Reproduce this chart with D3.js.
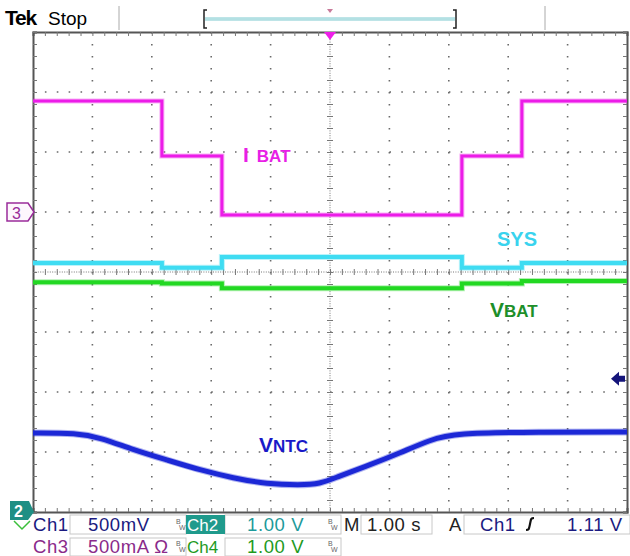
<!DOCTYPE html>
<html>
<head>
<meta charset="utf-8">
<script src="https://cdn.jsdelivr.net/npm/d3@7"></script>
<style>
body { margin: 0; background: #fff; }
svg { display: block; font-family: "Liberation Sans", Arial, sans-serif; }
</style>
</head>
<body>
<script>
// scope settings (per division)
var divX = 10, divY = 8;
var secPerDiv = 1.0;

// step edges of the charge-current sequence (s)
var stepTimes = [0, 2.17, 3.18, 7.22, 8.23, 10];
// one value per segment
var ibatMA = [925, 467, -25, 467, 925];
var sysV = [4.15, 4.07, 4.25, 4.07, 4.15];
var vbatV = [3.83, 3.81, 3.73, 3.81, 3.85];

// thermistor voltage
var ntcTime = [0, 0.74, 1.13, 1.68, 2.26, 2.81, 3.37, 3.94, 4.49, 4.83, 5.12, 5.67, 6.18, 6.68, 7.10, 8.5, 10];
var ntcV = [0.658, 0.658, 0.62, 0.52, 0.433, 0.35, 0.283, 0.233, 0.225, 0.233, 0.292, 0.392, 0.492, 0.6, 0.658, 0.665, 0.667];

var W = 630, H = 556;
var gL = 33, gR = 627, gT = 32, gB = 512;

var svg = d3.select("body").append("svg")
    .attr("width", W)
    .attr("height", H);

var x = d3.scaleLinear().domain([0, divX * secPerDiv]).range([gL, gR]);
// per-channel vertical scales (ground marker position + volts/div)
var yCh1 = d3.scaleLinear().domain([0, 4]).range([gB, gT]);        // 500mV/div, gnd at bottom
var yCh2 = d3.scaleLinear().domain([0, 8]).range([gB, gT]);        // 1.00V/div
var yCh4 = d3.scaleLinear().domain([0, 8]).range([gB, gT]);        // 1.00V/div
var yCh3 = d3.scaleLinear().domain([-2500, 1500]).range([gB, gT]); // 500mA/div, gnd at div 5
var yDiv = d3.scaleLinear().domain([0, divY]).range([gB, gT]);

// ---- top bar
svg.append("text").attr("x", 5).attr("y", 25)
    .attr("font-size", 21).attr("font-weight", "bold")
    .attr("letter-spacing", -1.2).text("Tek");
svg.append("text").attr("x", 48).attr("y", 25)
    .attr("font-size", 19).text("Stop");
svg.append("line").attr("x1", 119).attr("x2", 119).attr("y1", 6).attr("y2", 30)
    .attr("stroke", "#aaa");
svg.append("line").attr("x1", 545).attr("x2", 545).attr("y1", 6).attr("y2", 30)
    .attr("stroke", "#aaa");
svg.append("line").attr("x1", 205).attr("x2", 455).attr("y1", 19).attr("y2", 19)
    .attr("stroke", "#7fc9cf").attr("stroke-width", 3);
svg.append("line").attr("x1", 205).attr("x2", 455).attr("y1", 19).attr("y2", 19)
    .attr("stroke", "#e8f8f8").attr("stroke-width", 1);
svg.append("path").attr("d", "M207,10 h-3 v18 h3").attr("fill", "none").attr("stroke", "#222").attr("stroke-width", 1.5);
svg.append("path").attr("d", "M453,10 h3 v18 h-3").attr("fill", "none").attr("stroke", "#222").attr("stroke-width", 1.5);
svg.append("path").attr("d", "M327,9 h6 l-3,4 z").attr("fill", "#c87a9a");

// ---- graticule
var grid = svg.append("g");
d3.range(1, divX).filter(function(i) { return i != 5; }).forEach(function(i) {
    grid.append("line")
        .attr("x1", x(i)).attr("x2", x(i)).attr("y1", gT).attr("y2", gB)
        .attr("stroke", "#6a6a6a").attr("stroke-width", 1.6)
        .attr("stroke-dasharray", "1.6 10.4");
});
d3.range(1, divY).filter(function(i) { return i != 4; }).forEach(function(i) {
    grid.append("line")
        .attr("x1", gL).attr("x2", gR).attr("y1", yDiv(i)).attr("y2", yDiv(i))
        .attr("stroke", "#6a6a6a").attr("stroke-width", 1.6)
        .attr("stroke-dasharray", "1.6 10.28");
});
// centre cross
grid.append("line").attr("x1", x(5)).attr("x2", x(5)).attr("y1", gT).attr("y2", gB)
    .attr("stroke", "#777").attr("stroke-dasharray", "1 1.4");
grid.append("line").attr("x1", gL).attr("x2", gR).attr("y1", yDiv(4)).attr("y2", yDiv(4))
    .attr("stroke", "#777").attr("stroke-dasharray", "1 1.4");

var minorX = d3.range(0, 10.001, 0.2), minorY = d3.range(0, 8.001, 0.2);
grid.append("g").attr("transform", "translate(0," + (yDiv(4) + 3) + ")")
    .call(d3.axisTop(x).tickValues(minorX).tickSize(6).tickFormat(""))
    .call(function(g) { g.select(".domain").remove(); });
grid.append("g").attr("transform", "translate(" + (x(5) + 3) + ",0)")
    .call(d3.axisLeft(yDiv).tickValues(minorY).tickSize(6).tickFormat(""))
    .call(function(g) { g.select(".domain").remove(); });
// rulers on the border
grid.append("g").attr("transform", "translate(0," + gT + ")")
    .call(d3.axisBottom(x).tickValues(minorX).tickSize(4).tickFormat(""));
grid.append("g").attr("transform", "translate(0," + gB + ")")
    .call(d3.axisTop(x).tickValues(minorX).tickSize(4).tickFormat(""));
grid.append("g").attr("transform", "translate(" + gL + ",0)")
    .call(d3.axisRight(yDiv).tickValues(minorY).tickSize(4).tickFormat(""));
grid.append("g").attr("transform", "translate(" + gR + ",0)")
    .call(d3.axisLeft(yDiv).tickValues(minorY).tickSize(4).tickFormat(""));
grid.selectAll(".tick line").attr("stroke", "#777");
grid.selectAll(".domain").attr("stroke", "#555").attr("stroke-width", 2);

// ---- traces
function stepData(vals) {
    var d = vals.map(function(v, i) { return [stepTimes[i], v]; });
    d.push([stepTimes[stepTimes.length - 1], vals[vals.length - 1]]);
    return d;
}
function drawTrace(data, y, color, width, curve) {
    var line = d3.line()
        .x(function(d) { return x(d[0]); })
        .y(function(d) { return y(d[1]); })
        .curve(curve);
    svg.append("path").datum(data)
        .attr("fill", "none").attr("stroke", color)
        .attr("stroke-opacity", 0.35).attr("stroke-width", width + 2)
        .attr("d", line);
    svg.append("path").datum(data)
        .attr("fill", "none").attr("stroke", color)
        .attr("stroke-width", width)
        .attr("d", line);
}
drawTrace(stepData(sysV), yCh2, "#3fdcf2", 4, d3.curveStepAfter);
drawTrace(stepData(vbatV), yCh4, "#22d822", 4, d3.curveStepAfter);
drawTrace(stepData(ibatMA), yCh3, "#ec1ce8", 3, d3.curveStepAfter);
drawTrace(ntcTime.map(function(t, i) { return [t, ntcV[i]]; }), yCh1, "#1c28d6", 5, d3.curveBasis);

// ---- trace labels
function label(xp, yp, big, small, color, bigSize, smallSize, gap) {
    var t = svg.append("text").attr("x", xp).attr("y", yp)
        .attr("fill", color).attr("font-weight", "bold");
    t.append("tspan").attr("font-size", bigSize).text(big);
    t.append("tspan").attr("font-size", smallSize).attr("dx", gap).text(small);
}
label(243, 162, "I", "BAT", "#e81fe6", 21, 17, 8);
label(490, 317, "V", "BAT", "#1d8f2a", 21, 17, 0);
label(259, 452, "V", "NTC", "#1919c8", 21, 17, 0);
svg.append("text").attr("x", 497).attr("y", 246)
    .attr("fill", "#39d3ee").attr("font-weight", "bold").attr("font-size", 20).text("SYS");

// ---- markers
svg.append("path").attr("d", "M7,203 h21 l6,9 l-6,9 h-21 z")
    .attr("fill", "#fdf6fd").attr("stroke", "#9a2c9a").attr("stroke-width", 1.5);
svg.append("text").attr("x", 12).attr("y", 219).attr("fill", "#9a2c9a")
    .attr("font-size", 16).text("3");
svg.append("path").attr("d", "M14,521 l8,8 l8,-8").attr("fill", "none")
    .attr("stroke", "#3bbf3b").attr("stroke-width", 1.5);
svg.append("path").attr("d", "M10,501 h19 l5,11 l-6,8 h-18 z").attr("fill", "#1f8f84");
svg.append("text").attr("x", 14).attr("y", 517).attr("fill", "#fff")
    .attr("font-size", 16).attr("font-weight", "bold").text("2");
svg.append("path").attr("d", "M" + (x(5) - 6) + "," + gT + " h12 l-6,8 z").attr("fill", "#ee1ee8");
svg.append("path").attr("d", "M611," + yCh1(1.11) + " l8,-7 v4 h6 v6 h-6 v4 z").attr("fill", "#14147a");

// ---- status bar
var bar = svg.append("g");
function box(x0, y0, w, h) {
    bar.append("rect").attr("x", x0).attr("y", y0).attr("width", w).attr("height", h)
        .attr("fill", "#fff").attr("stroke", "#c8c8c8");
}
box(70, 515, 116, 19); box(225, 515, 116, 19); box(361, 515, 71, 19); box(464, 515, 166, 19);
box(70, 538, 116, 18); box(225, 538, 116, 18);
bar.append("rect").attr("x", 186).attr("y", 515).attr("width", 39).attr("height", 19).attr("fill", "#1f9a8c");

function txt(xp, yp, s, color, size) {
    return bar.append("text").attr("x", xp).attr("y", yp).attr("fill", color)
        .attr("font-size", size || 18.5).attr("letter-spacing", size ? 0 : 0.6).text(s);
}
function bw(xp, yp) {
    txt(xp, yp - 6, "B", "#666", 7);
    txt(xp + 3, yp, "W", "#666", 7);
}
txt(33, 531, "Ch1", "#1a1a80");
txt(88, 531, "500mV", "#1a1a80");
bw(176, 530);
txt(187, 531, "Ch2", "#fff", 17);
txt(247, 531, "1.00 V", "#1c9a9a");
bw(328, 530);
txt(344, 531, "M", "#222");
txt(367, 531, "1.00 s", "#222");
txt(449, 531, "A", "#222");
txt(480, 531, "Ch1", "#1a1a80");
bar.append("path").attr("d", "M526,530 c3,0 3,-1 4,-6 c1,-5 1,-6 4,-6").attr("fill", "none")
    .attr("stroke", "#111").attr("stroke-width", 2.2);
txt(567, 531, "1.11 V", "#1a1a80");
txt(33, 553, "Ch3", "#8a2a8a");
txt(88, 553, "500mA Ω", "#8a2a8a");
bw(176, 552);
txt(187, 553, "Ch4", "#1e9a1e", 17);
txt(247, 553, "1.00 V", "#1e9a1e");
bw(328, 552);
</script>
</body>
</html>
